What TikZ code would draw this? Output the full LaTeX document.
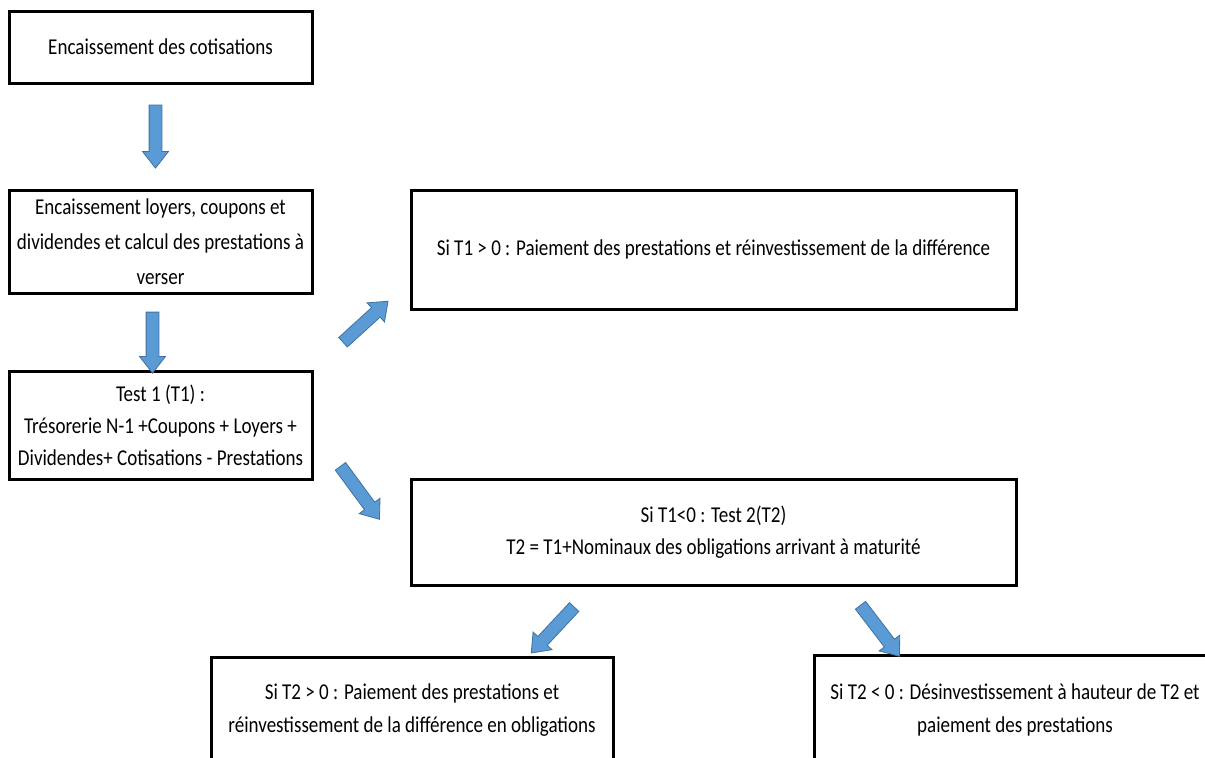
\documentclass[tikz,border=0pt]{standalone}
\usepackage{fontspec}
\setmainfont{Carlito}[FakeStretch=0.84]
\usetikzlibrary{shapes.arrows,calc}
\definecolor{arrowfill}{HTML}{5B9BD5}
\definecolor{arrowedge}{HTML}{41719C}
\tikzset{
  box/.style={draw=black, line width=2.25pt, align=center, inner sep=0pt,
    font=\fontsize{17}{24}\selectfont},
  barrow/.style={single arrow, draw=arrowedge, fill=arrowfill, line width=0.6pt,
    inner xsep=0pt, inner ysep=4.5pt, single arrow head extend=4.9pt,
    single arrow tip angle=76},
}
\newcommand{\blockarrow}[3]{%
  \path let \p1=(#2), \p2=(#3), \n1={atan2(\y2-\y1,\x2-\x1)},
    \n2={veclen(\x2-\x1,\y2-\y1)} in
    node[barrow, minimum height=\n2, rotate=\n1] (#1) at ($(#2)!0.5!(#3)$) {};}
\begin{document}
\begin{tikzpicture}[x=0.75pt, y=-0.75pt]
\useasboundingbox (0,0) rectangle (1205,757);
\fill[white] (0,0) rectangle (1205,757);
\clip (0,0) rectangle (1205,757);

\node[box, minimum width=227.25pt, minimum height=54pt] (b1) at (160.5,47)
  {Encaissement des cotisations};
\node[box, minimum width=227.25pt, minimum height=77.25pt,
  font=\fontsize{17}{26.25}\selectfont] (b2) at (160.5,241.5)
  {Encaissement loyers, coupons et\\dividendes et calcul des prestations à\\verser};
\node[box, minimum width=227.25pt, minimum height=81pt] (b3) at (160.5,425)
  {Test 1 (T1) :\\Trésorerie N-1 +Coupons + Loyers +\\Dividendes+ Cotisations - Prestations};
\node[box, minimum width=453.75pt, minimum height=89.25pt] (b4) at (713.5,249.5)
  {Si T1 > 0 : Paiement des prestations et réinvestissement de la différence};
\node[box, minimum width=453.75pt, minimum height=79.5pt] (b5) at (713.5,532)
  {Si T1<0 : Test 2(T2)\\T2 = T1+Nominaux des obligations arrivant à maturité};
\node[box, minimum width=301.5pt, minimum height=80.25pt,
  font=\fontsize{17}{24.75}\selectfont] (b6) at (412,710.5)
  {Si T2 > 0 : Paiement des prestations et\\réinvestissement de la différence en obligations};
\node[box, minimum width=301.5pt, minimum height=82.5pt,
  font=\fontsize{17}{24.75}\selectfont] (b7) at (1015,710)
  {Si T2 < 0 : Désinvestissement à hauteur de T2 et\\paiement des prestations};

\coordinate (a1s) at (155.5,101);
\coordinate (a1e) at (155.5,164);
\coordinate (a2s) at (152.5,308);
\coordinate (a2e) at (152.5,369);
\coordinate (a3s) at (340,345);
\coordinate (a3e) at (385,304);
\coordinate (a4s) at (338,463);
\coordinate (a4e) at (377,516);
\coordinate (a5s) at (577,604);
\coordinate (a5e) at (534,650);
\coordinate (a6s) at (858,602);
\coordinate (a6e) at (897,653);

\blockarrow{ar1}{a1s}{a1e}
\blockarrow{ar2}{a2s}{a2e}
\blockarrow{ar3}{a3s}{a3e}
\blockarrow{ar4}{a4s}{a4e}
\blockarrow{ar5}{a5s}{a5e}
\blockarrow{ar6}{a6s}{a6e}
\end{tikzpicture}
\end{document}
